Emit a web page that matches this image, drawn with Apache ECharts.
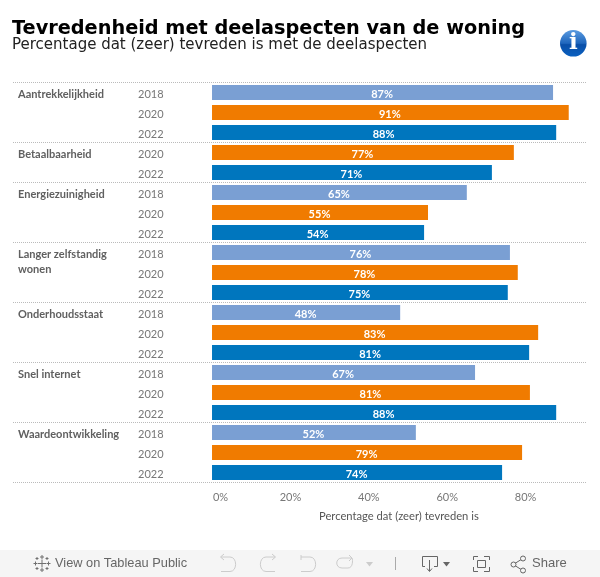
<!DOCTYPE html>
<html><head><meta charset="utf-8">
<style>html,body{margin:0;padding:0;background:#fff}#c{width:600px;height:577px}</style>
<script src="https://cdn.jsdelivr.net/npm/echarts@6/dist/echarts.min.js"></script>
</head><body><div id="c"></div>
<script>
const groups = ['Aantrekkelijkheid','','','Betaalbaarheid','','Energiezuinigheid','','','Langer zelfstandig','wonen','','Onderhoudsstaat','','','Snel internet','','','Waardeontwikkeling','',''];
const years = ['2018','2020','2022','2020','2022','2018','2020','2022','2018','2020','2022','2018','2020','2022','2018','2020','2022','2018','2020','2022'];
const values = [87,91,87.8,77,71.4,65,55.1,54.1,76,78,75.45,48,83.2,80.9,67.1,81.1,87.8,52,79.1,74];
const yearColors = {'2018':'#7a9fd3','2020':'#f07b00','2022':'#0076be'};
const xTicks = [0,20,40,60,80];
const groupStarts = [0,3,5,8,11,14,17,20];
const xMin = -50.77, xMax = 95.66;

const tb = '#666666';
let pathN = 0;
const line = (d, stroke, lw) => {
  const name = 'tbPath' + (pathN++);
  echarts.graphic.registerShape(name, echarts.graphic.extendPath(d, {}));
  return {type:name, style:{fill:'none', stroke:stroke||tb, lineWidth:lw||1}, silent:true};
};
const tri = (x,y,c) => ({type:'polygon', shape:{points:[[x,y],[x+7,y],[x+3.5,y+4.5]]}, style:{fill:c}, silent:true});
const plus = (x,y,s) => `M${x-s} ${y}L${x+s} ${y}M${x} ${y-s}L${x} ${y+s}`;
const groupFont = {color:'#606060', fontFamily:'Lato', fontWeight:'bold', fontSize:11};
const yearFont = {color:'#777', fontFamily:'Lato', fontSize:11};

const chart = echarts.init(document.getElementById('c'), null, {renderer:'canvas'});
chart.setOption({
  animation:false,
  backgroundColor:'#fff',
  title:[
    {text:'Tevredenheid met deelaspecten van de woning', left:7, top:14, textStyle:{fontFamily:'DejaVu Sans', fontWeight:'bold', fontSize:19.3, color:'#000'}},
    {text:'Percentage dat (zeer) tevreden is met de deelaspecten', left:7, top:33, textStyle:{fontFamily:'DejaVu Sans', fontWeight:'normal', fontSize:15, color:'#222'}},
    {text:'Percentage dat (zeer) tevreden is', left:314, top:506, textStyle:{fontFamily:'Lato', fontWeight:'normal', fontSize:11.2, color:'#555'}}
  ],
  grid:{left:13, right:13, top:82.5, height:400},
  xAxis:{type:'value', min:xMin, max:xMax, splitLine:{show:false}, axisTick:{show:false},
    axisLine:{show:false, onZero:false},
    axisLabel:{customValues:xTicks, margin:9, color:'#777', fontFamily:'Lato', fontSize:11,
      formatter:v => v===0 ? '{z|0%}' : v+'%', rich:{z:{padding:[0,0,0,17], color:'#777', fontFamily:'Lato', fontSize:11}}}},
  yAxis:[
    {type:'category', inverse:true, data:years, position:'left',
      axisLine:{show:false,onZero:false}, axisTick:{show:false},
      axisLabel:{inside:true, interval:0, margin:125, ...yearFont,
        formatter:v => '{y|'+v+'}', rich:{y:{padding:[4,0,0,0], ...yearFont}}},
      splitLine:{show:true, interval:i=>groupStarts.includes(i), lineStyle:{type:'dotted', color:'#bbb', width:1}}},
    {type:'category', inverse:true, data:groups, position:'left', offset:0,
      axisLine:{show:false,onZero:false}, axisTick:{show:false}, splitLine:{show:false},
      axisLabel:{inside:true, interval:0, margin:5, ...groupFont,
        formatter:v => v==='wonen' ? '{w|wonen}' : '{g|'+v+'}',
        rich:{w:{padding:[0,0,6,0], ...groupFont}, g:{padding:[4,0,0,0], ...groupFont}}}}
  ],
  series:[{type:'bar', barWidth:15, silent:true,
    data:values.map((v,i)=>({value:v, itemStyle:{color:yearColors[years[i]]}})),
    label:{show:true, position:'inside', offset:[-0.5,2], color:'#fff', fontFamily:'Lato', fontWeight:'bold', fontSize:11, formatter:p=>Math.round(p.value)+'%'}}],
  graphic:[
    {type:'rect', shape:{x:0,y:550,width:600,height:27}, style:{fill:'#f5f5f5'}, silent:true},
    {type:'circle', shape:{cx:573.3,cy:43.3,r:13.3}, silent:true, style:{fill:new echarts.graphic.LinearGradient(0,0,0,1,[{offset:0,color:'#5b9be0'},{offset:0.5,color:'#1f66bd'},{offset:0.55,color:'#0a4fa8'},{offset:1,color:'#0a60c0'}])}},
    {type:'text', silent:true, style:{text:'i', x:573.3, y:43, align:'center', verticalAlign:'middle', fill:'#fff', fontFamily:'DejaVu Serif', fontWeight:'bold', fontSize:23}},
    line(plus(42,563.5,4)+plus(42,557,2)+plus(42,570,2)+plus(35.5,563.5,2)+plus(48.5,563.5,2)+plus(37,558.5,1.5)+plus(47,558.5,1.5)+plus(37,568.5,1.5)+plus(47,568.5,1.5),'#707070',1),
    {type:'text', silent:true, style:{text:'View on Tableau Public', x:55, y:563.5, verticalAlign:'middle', fill:tb, fontFamily:'Liberation Sans', fontSize:12.8}},
    line('M221 557H230C237.5 557 237.5 571.5 230 571.5H221','#ccc'), line('M224 554L220.5 557L224 560','#ccc'),
    line('M275 557H266C258.5 557 258.5 571.5 266 571.5H275','#ccc'), line('M272 554L275.5 557L272 560','#ccc'),
    line('M301 557H310C317.5 557 317.5 571.5 310 571.5H301','#ccc'), line('M301 555V560','#ccc'),
    line('M352 558H342C335 558 335 568 342 568H348C353 568 353 560 352 558','#ccc'),line('M349 555L352 558L349 561','#ccc'),
    tri(366,562,'#ccc'),
    line('M395.5 557V570','#aaa'),
    line('M425 566.5H422.5V556.5H437.5V566.5H434'), line('M429.5 560V571M427 568.5L429.5 571.5L432 568.5'),
    tri(443,562,tb),
    line('M473.5 560V556.5H478M484 556.5H489.5V560M489.5 567V571.5H484M478 571.5H473.5V567'), {type:'rect',silent:true,shape:{x:477.5,y:560.5,width:8,height:7},style:{fill:'none',stroke:tb}},
    line('M514 564L522 559M514 565L522 570'), {type:'circle',silent:true,shape:{cx:513.5,cy:564.5,r:2.5},style:{fill:'#f5f5f5',stroke:tb}},
    {type:'circle',silent:true,shape:{cx:523,cy:558.5,r:2.5},style:{fill:'#f5f5f5',stroke:tb}},{type:'circle',silent:true,shape:{cx:523,cy:570.5,r:2.5},style:{fill:'#f5f5f5',stroke:tb}},
    {type:'text', silent:true, style:{text:'Share', x:532, y:563.5, verticalAlign:'middle', fill:tb, fontFamily:'Liberation Sans', fontSize:13}}
  ]
});
</script></body></html>
